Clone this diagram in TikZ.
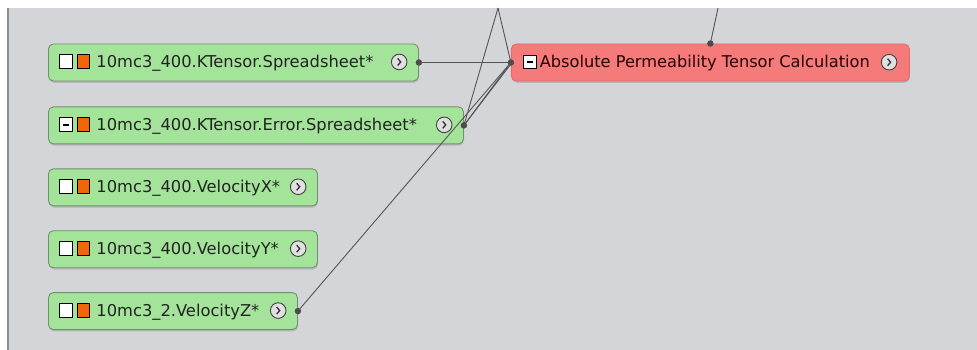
\documentclass[tikz,border=0pt]{standalone}
\usepackage{fontspec}
\setmainfont{DejaVu Sans}
\usepackage{tikz}
\usetikzlibrary{positioning,shadows}
\usepackage{xcolor}

\definecolor{bgcol}{HTML}{D4D5D9}
\definecolor{gfill}{HTML}{A4E49A}
\definecolor{gline}{HTML}{71906D}
\definecolor{rfill}{HTML}{F57B7B}
\definecolor{rline}{HTML}{E56A6A}
\definecolor{orng}{HTML}{F2660A}
\definecolor{wire}{HTML}{555555}
\definecolor{ink}{HTML}{222222}

% small icons used inside the node labels
\tikzset{icon/.style={baseline=0pt,x=1pt,y=1pt,sharp corners}}
\newcommand\wbox{\tikz[icon]\draw[black,fill=white,line width=1pt] (0.5,-1) rectangle (13,12.5);}
\newcommand\obox{\tikz[icon]\draw[black,fill=orng,line width=1pt] (0.5,-1) rectangle (13,12.5);}
\newcommand\minbox{\tikz[icon]{\draw[black,fill=white,line width=1pt] (0.5,-1) rectangle (13,12.5);
  \draw[black,line width=2pt] (3.5,5.75) -- (10,5.75);}}
\newcommand\btn{\tikz[icon]{\draw[black!75,fill=black!12,line width=0.9pt] (0,5.5) circle (7.8);
  \draw[black!80,line width=1.3pt] (-1.5,9) -- (1.5,5.5) -- (-1.5,2);}}
\newcommand\glabel[3]{\makebox[#1][l]{#2\hspace{4pt}\obox\hspace{6pt}#3\hfill\btn}}

\begin{document}
\begin{tikzpicture}[x=1pt,y=-1pt,node distance=24pt and 92pt,
  gbox/.style={draw=gline,fill=gfill,line width=0.9pt,rounded corners=5pt,minimum height=37pt,
    inner xsep=11pt,inner ysep=0pt,text=ink,font=\fontsize{16.3}{19}\selectfont,
    drop shadow={shadow xshift=0.6pt,shadow yshift=-1.8pt,opacity=.35}},
  rbox/.style={gbox,draw=rline,fill=rfill,text=black!85!red,font=\fontsize{16.2}{19}\selectfont},
  dot/.style={circle,fill=black!70,inner sep=0pt,minimum size=6.5pt},
  wireln/.style={draw=wire,line width=0.9pt}]
\useasboundingbox (0,0) rectangle (977,350);
\fill[white] (0,0) rectangle (977,350);
\fill[bgcol] (7,8) rectangle (977,350);
\fill[black!45] (7,8) rectangle (9,350);

\node[gbox,anchor=west] (ks) at (48,62.5) {\glabel{348pt}{\wbox}{10mc3\_400.KTensor.Spreadsheet*}};
\node[gbox,below=25pt of ks.south west,anchor=north west] (kerr) {\glabel{393pt}{\minbox}{10mc3\_400.KTensor.Error.Spreadsheet*}};
\node[gbox,below=of kerr.south west,anchor=north west] (vx) {\glabel{247pt}{\wbox}{10mc3\_400.VelocityX*}};
\node[gbox,below=of vx.south west,anchor=north west] (vy) {\glabel{247pt}{\wbox}{10mc3\_400.VelocityY*}};
\node[gbox,below=of vy.south west,anchor=north west] (vz) {\glabel{227pt}{\wbox}{10mc3\_2.VelocityZ*}};
\node[rbox,right=of ks,inner xsep=12pt] (perm) {\makebox[374pt][l]{\minbox\hspace{3pt}Absolute Permeability Tensor Calculation\hfill\btn}};

% wires
\coordinate (up1) at (498,8);
\coordinate (up2) at (718,8);
\draw[wireln] (ks.east) -- (perm.west);
\draw[wireln] (kerr.east) -- (perm.west);
\draw[wireln] (kerr.east) -- ([yshift=-1.5pt]perm.west);
\draw[wireln] (vz.east) -- (perm.west);
\draw[wireln] (up1) -- (kerr.east);
\draw[wireln] (up1) -- (perm.west);
\draw[wireln] (up2) -- (perm.north);

\foreach \n/\a in {ks/east,kerr/east,vz/east,perm/west,perm/north}
  \node[dot] at (\n.\a) {};
\end{tikzpicture}
\end{document}
